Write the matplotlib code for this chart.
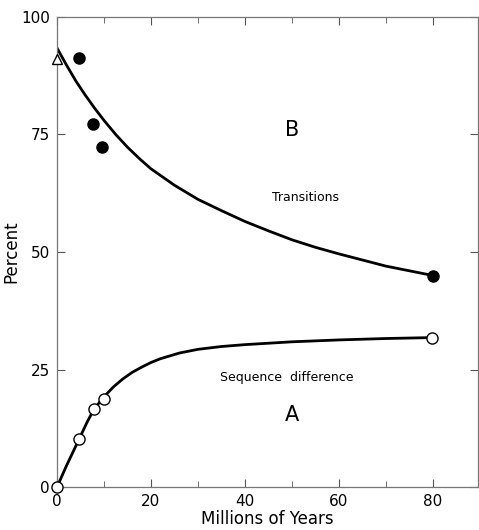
import matplotlib
matplotlib.use("Agg")
import matplotlib.pyplot as plt
import matplotlib.ticker as mticker

# ── Data ──────────────────────────────────────────────────────────────────────
# measured points
trans_x = [4.6, 7.6, 9.6, 80]
trans_y = [91.2, 77.2, 72.3, 44.9]
seq_x = [0, 4.7, 7.9, 10.0, 79.8]
seq_y = [0, 10.2, 16.6, 18.7, 31.7]
tri_x = [0]
tri_y = [91]

# fitted curves
trans_curve_x = [0, 2, 4, 6, 8, 10, 12.5, 15, 17.5, 20, 25, 30, 35, 40, 45,
                 50, 55, 60, 65, 70, 75, 80]
trans_curve_y = [93.4, 89.8, 86.4, 83.4, 80.6, 78.0, 75.0, 72.3, 69.9, 67.7,
                 64.2, 61.2, 58.8, 56.5, 54.5, 52.6, 51.0, 49.6, 48.3, 47.0,
                 46.0, 45.0]
seq_curve_x = [0, 2, 4.7, 6.5, 7.9, 10, 12, 14, 16, 18, 20, 22, 26, 30, 35,
               40, 50, 60, 70, 80]
seq_curve_y = [0, 4.5, 10.2, 14.0, 16.6, 19.2, 21.3, 23.0, 24.4, 25.5, 26.5,
               27.3, 28.5, 29.3, 29.9, 30.3, 30.9, 31.3, 31.6, 31.8]

x_major = [0, 20, 40, 60, 80]
x_minor = [10, 30, 50, 70]
y_major = [0, 25, 50, 75, 100]

plt.rcParams["font.family"] = ["DejaVu Sans"]

fig = plt.figure(figsize=(4.79, 5.30), dpi=100)
ax = fig.add_axes([0.119, 0.081, 0.879, 0.887])

ax.plot(trans_curve_x, trans_curve_y, "-", color="black", lw=2.0)
ax.plot(seq_curve_x, seq_curve_y, "-", color="black", lw=2.0)

ax.plot(trans_x, trans_y, "o", color="black", ms=8, clip_on=False, zorder=5)
ax.plot(seq_x, seq_y, "o", mfc="white", mec="black", mew=1.0, ms=8,
        clip_on=False, zorder=5)
ax.plot(tri_x, tri_y, "^", mfc="white", mec="black", mew=1.0, ms=7,
        clip_on=False, zorder=5)

ax.text(50, 76, "B", fontsize=15, ha="center", va="center")
ax.text(50, 15.3, "A", fontsize=15, ha="center", va="center")
ax.text(52.8, 61.7, "Transitions", fontsize=9, ha="center", va="center")
ax.text(48.9, 23.4, "Sequence  difference", fontsize=9, ha="center", va="center")

ax.set_xlim(0, 89.6)
ax.set_ylim(0, 100)
ax.xaxis.set_major_locator(mticker.FixedLocator(x_major))
ax.xaxis.set_minor_locator(mticker.FixedLocator(x_minor))
ax.yaxis.set_major_locator(mticker.FixedLocator(y_major))
ax.tick_params(which="both", direction="in", top=True, right=True,
               labelsize=11, color="#555555")
ax.tick_params(which="major", length=6)
ax.tick_params(which="minor", length=4)
ax.tick_params(axis="x", pad=5)
ax.tick_params(axis="y", pad=5)

for s in ax.spines.values():
    s.set_color("#777777")
    s.set_linewidth(0.9)

ax.set_xlabel("Millions of Years", fontsize=12, labelpad=1)
ax.set_ylabel("Percent", fontsize=12)
ax.yaxis.set_label_coords(-0.086, 0.5)

fig.savefig("out.png", dpi=100)
